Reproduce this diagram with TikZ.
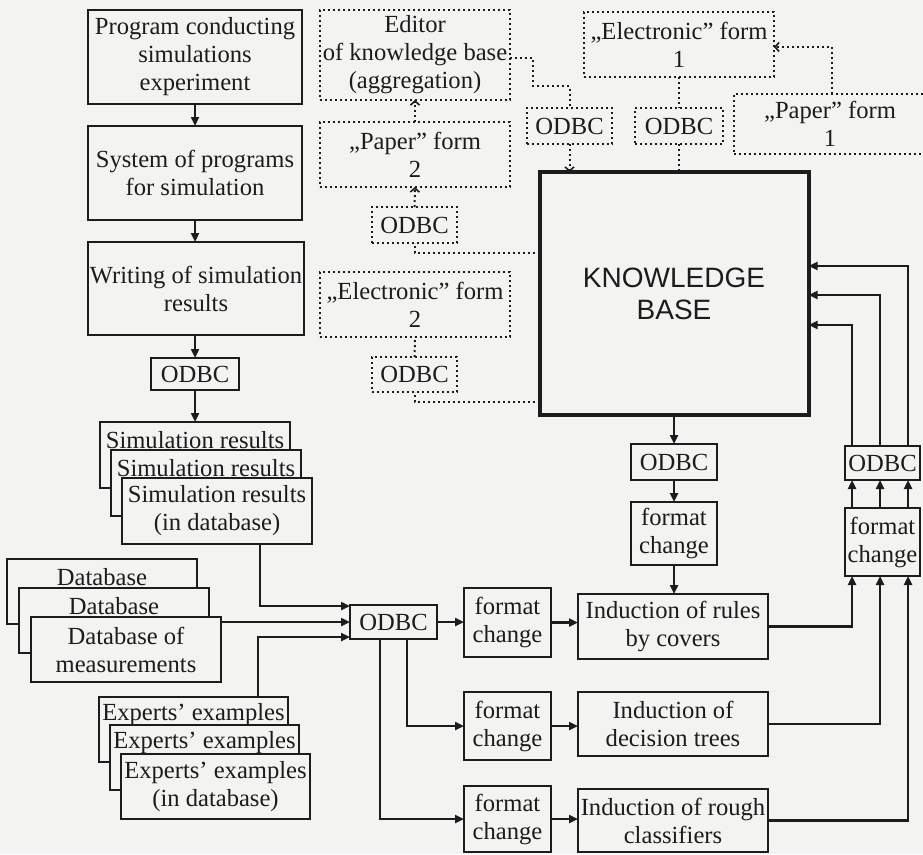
\documentclass[tikz,border=0pt]{standalone}
\usepackage{fontspec}
\setmainfont{Liberation Serif}
\newfontfamily\kbfont{Liberation Sans}
\usetikzlibrary{arrows.meta}
\definecolor{paper}{RGB}{243,243,241}
\definecolor{ink}{RGB}{28,28,28}

\begin{document}
\begin{tikzpicture}[x=1pt,y=-1pt,
  every node/.style={font=\fontsize{24.6}{28}\selectfont, text=ink, inner sep=0pt, outer sep=0pt, align=center},
  solidbox/.style={draw=ink, line width=2.3pt, fill=paper, rectangle},
  dotbox/.style={draw=ink, line width=2pt, dash pattern=on 2pt off 3pt, rectangle},
  flow/.style={draw=ink, line width=2.3pt, -{Triangle[length=9pt,width=8pt]}},
  dotflow/.style={draw=ink, line width=2pt, dash pattern=on 2pt off 3pt},
  dothead/.style={-{Straight Barb[length=4pt,width=9pt,line width=1.6pt]}},
  toplabel/.style={anchor=center, yshift=-18pt},
]
\useasboundingbox (0,0) rectangle (923,854);
\fill[paper] (0,0) rectangle (923,854);

% simulation chain
\node[solidbox, minimum width=214, minimum height=94] (prog) at (195,57) {Program conducting\\simulations\\experiment};
\node[solidbox, minimum width=214, minimum height=94] (sys) at (195,173) {System of programs\\for simulation};
\node[solidbox, minimum width=216, minimum height=93] (writ) at (196,288.5) {Writing of simulation\\results};
\node[solidbox, minimum width=88, minimum height=32] (odbcA) at (195,374) {ODBC};

% stacked data sources
\node[solidbox, minimum width=190, minimum height=66, label={[toplabel]north:Simulation results}] (sim1) at (195,455) {};
\node[solidbox, minimum width=190, minimum height=66, label={[toplabel]north:Simulation results}] (sim2) at (206,483) {};
\node[solidbox, minimum width=190, minimum height=66] (sim3) at (217,511) {Simulation results\\(in database)};

\node[solidbox, minimum width=190, minimum height=65, label={[toplabel]north:Database}] (db1) at (102,591.5) {};
\node[solidbox, minimum width=190, minimum height=65, label={[toplabel]north:Database}] (db2) at (114,620.5) {};
\node[solidbox, minimum width=190, minimum height=65] (db3) at (126,649.5) {Database of\\measurements};

\node[solidbox, minimum width=189, minimum height=65, label={[toplabel]north:Experts’ examples}] (exp1) at (193.5,729.5) {};
\node[solidbox, minimum width=189, minimum height=65, label={[toplabel]north:Experts’ examples}] (exp2) at (204.5,757.5) {};
\node[solidbox, minimum width=189, minimum height=65] (exp3) at (215.5,786.5) {Experts’ examples\\(in database)};

% learning branch
\node[solidbox, minimum width=87, minimum height=34] (odbcB) at (393.5,622) {ODBC};
\node[solidbox, minimum width=87, minimum height=69] (fc1) at (507.5,622.5) {format\\change};
\node[solidbox, minimum width=87, minimum height=68] (fc2) at (507.5,726) {format\\change};
\node[solidbox, minimum width=87, minimum height=66] (fc3) at (507.5,819) {format\\change};
\node[solidbox, minimum width=190, minimum height=65] (ind1) at (673,626.5) {Induction of rules\\by covers};
\node[solidbox, minimum width=190, minimum height=64] (ind2) at (673,724) {Induction of\\decision trees};
\node[solidbox, minimum width=190, minimum height=63] (ind3) at (673,820.5) {Induction of rough\\classifiers};

% knowledge base and its links
\node[draw=ink, line width=4pt, fill=paper, minimum width=269, minimum height=243,
      font=\kbfont\fontsize{28}{32}\selectfont] (KB) at (674,293.5) {KNOWLEDGE\\BASE};
\node[solidbox, minimum width=86, minimum height=36] (odbcC) at (674,462) {ODBC};
\node[solidbox, minimum width=86, minimum height=63] (fc4) at (674,533.5) {format\\change};
\node[solidbox, minimum width=75, minimum height=34] (odbcD) at (882.5,463) {ODBC};
\node[solidbox, minimum width=75, minimum height=68] (fc5) at (882.5,542) {format\\change};

% expert forms (dotted)
\node[dotbox, minimum width=190, minimum height=90] (editor) at (415,55) {Editor\\of knowledge base\\(aggregation)};
\node[dotbox, minimum width=190, minimum height=65] (paper2) at (415,154.5) {„Paper” form\\2};
\node[dotbox, minimum width=85, minimum height=36] (odbcE) at (414.5,225) {ODBC};
\node[dotbox, minimum width=190, minimum height=65] (elec2) at (415,304.5) {„Electronic” form\\2};
\node[dotbox, minimum width=85, minimum height=35] (odbcF) at (414.5,374.5) {ODBC};
\node[dotbox, minimum width=85, minimum height=36] (odbcG) at (569.5,126) {ODBC};
\node[dotbox, minimum width=88, minimum height=36] (odbcH) at (679,126) {ODBC};
\node[dotbox, minimum width=190, minimum height=65] (elec1) at (679,44.5) {„Electronic” form\\1};
\node[dotbox, minimum width=192, minimum height=60] (paper1) at (830,124) {„Paper” form\\1};

% solid connectors
\draw[flow] (prog.south) -- (sys.north);
\draw[flow] (sys.south) -- (writ.north -| sys.south);
\draw[flow] (writ.south -| odbcA.north) -- (odbcA.north);
\draw[flow] (odbcA.south) -- (sim1.north);
\draw[flow] ([xshift=43pt]sim3.south) |- ([yshift=16pt]odbcB.west);
\draw[flow] (odbcB.west -| db3.east) -- (odbcB.west);
\draw[flow] ([xshift=64.5pt]exp1.north) |- ([yshift=-15pt]odbcB.west);
\draw[flow] (odbcB.east) -- (odbcB.east -| fc1.west);
\draw[flow] ([xshift=13.5pt]odbcB.south) |- (fc2.west);
\draw[flow] ([xshift=-13.5pt]odbcB.south) |- (fc3.west);
\draw[flow] (fc1.east) -- (fc1.east -| ind1.west);
\draw[flow] (fc2.east) -- (fc2.east -| ind2.west);
\draw[flow] (fc3.east) -- (fc3.east -| ind3.west);
\draw[flow] (KB.south) -- (odbcC.north);
\draw[flow] (odbcC.south) -- (fc4.north);
\draw[flow] (fc4.south) -- (fc4.south |- ind1.north);
\draw[flow] (ind1.east) -| ([xshift=-30.5pt]fc5.south);
\draw[flow] (ind2.east) -| ([xshift=-2.5pt]fc5.south);
\draw[flow] (ind3.east) -| ([xshift=25.5pt]fc5.south);
\foreach \dx in {-30.5,-2.5,25.5}
  \draw[flow] ([xshift=\dx pt]fc5.north) -- ([xshift=\dx pt]odbcD.south);
\draw[flow] ([xshift=-30.5pt]odbcD.north) |- ([yshift=-31.5pt]KB.east);
\draw[flow] ([xshift=-2.5pt]odbcD.north) |- ([yshift=-1.5pt]KB.east);
\draw[flow] ([xshift=25.5pt]odbcD.north) |- ([yshift=27.5pt]KB.east);

% dotted connectors
\draw[dotflow] ([yshift=40.5pt]KB.west) -| (odbcE.south);
\draw[dotflow, dothead] (odbcE.north) -- (paper2.south);
\draw[dotflow, dothead] (paper2.north) -- (editor.south);
\draw[dotflow] ([yshift=-108.5pt]KB.west) -| (odbcF.south);
\draw[dotflow] (odbcF.north) -- (elec2.south);
\draw[dotflow] ([yshift=-3pt]editor.east) -- ++(23,0) -- ++(0,28) -| (odbcG.north);
\draw[dotflow, dothead] (odbcG.south) -- (odbcG.south |- KB.north);
\draw[dotflow] (elec1.south) -- (odbcH.north);
\draw[dotflow] (odbcH.south) -- (odbcH.south |- KB.north);
\draw[dotflow, dothead] ([xshift=2pt]paper1.north) |- ([yshift=-2.5pt]elec1.east);
\end{tikzpicture}
\end{document}
